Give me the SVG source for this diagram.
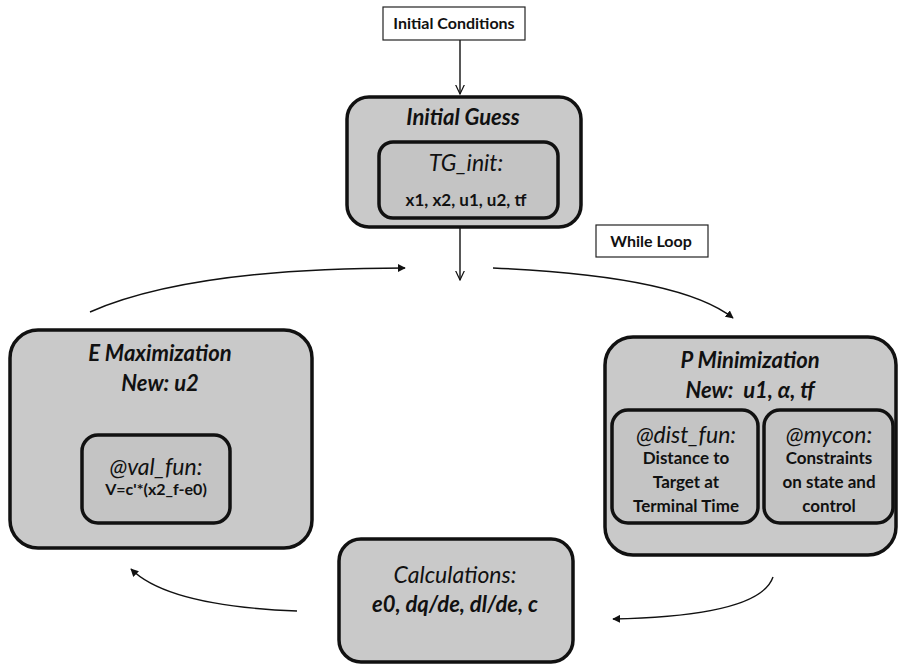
<svg xmlns="http://www.w3.org/2000/svg" width="899" height="670" viewBox="0 0 899 670">
<style>
.box{fill:#c9c9c9;stroke:#111;stroke-width:3.5}
.inner{fill:#c4c4c4;stroke:#111;stroke-width:3.5}
.plain{fill:#fff;stroke:#222;stroke-width:1.2}
.con{fill:none;stroke:#111;stroke-width:1.4}
text{font-family:Lato,"Open Sans","Liberation Sans",sans-serif;fill:#111;text-anchor:middle}
.h{font-size:22px;font-weight:bold;font-style:italic}
.i{font-size:23px;font-style:italic}
.b{font-size:16px;font-weight:bold}
.s{font-size:17px;font-weight:bold}
</style>
<defs>
<marker id="tri" viewBox="0 0 10 10" refX="9" refY="5" markerWidth="8" markerHeight="8" orient="auto" markerUnits="userSpaceOnUse">
<path d="M0,0 L10,5 L0,10 z" fill="#111"/>
</marker>
<marker id="vee" viewBox="0 0 10 10" refX="9.5" refY="5" markerWidth="10" markerHeight="10" orient="auto" markerUnits="userSpaceOnUse">
<path d="M0,0.5 L9.5,5 L0,9.5" fill="none" stroke="#111" stroke-width="1.2"/>
</marker>
</defs>
<rect width="899" height="670" fill="#fff"/>
<g id="connectors">
<path class="con" d="M460 40 L460 94" marker-end="url(#vee)"/>
<path class="con" d="M460 227 L460 280" marker-end="url(#vee)"/>
<path class="con" d="M90 312 Q190 268 405 268" marker-end="url(#tri)"/>
<path class="con" d="M493 268 Q680 276 733 318" marker-end="url(#tri)"/>
<path class="con" d="M773 577 Q760 616 613 619" marker-end="url(#tri)"/>
<path class="con" d="M297 611 Q168 606 131 569" marker-end="url(#tri)"/>
</g>
<g id="initial-conditions">
<rect class="plain" x="383" y="7" width="142" height="33"/>
<text class="b" x="454" y="29">Initial Conditions</text>
</g>
<g id="while-loop">
<rect class="plain" x="596" y="225" width="112" height="32"/>
<text class="b" x="651" y="247">While Loop</text>
</g>
<g id="initial-guess">
<rect class="box" x="347" y="97" width="234" height="130" rx="22"/>
<text class="h" x="463" y="125">Initial Guess</text>
<rect class="inner" x="379" y="142" width="179" height="76" rx="14"/>
<text class="i" x="466" y="171">TG_init:</text>
<text class="s" x="466" y="206">x1, x2, u1, u2, tf</text>
</g>
<g id="e-max">
<rect class="box" x="10" y="330" width="302" height="218" rx="28"/>
<text class="h" x="160" y="361">E Maximization</text>
<text class="h" x="160" y="391">New: u2</text>
<rect class="inner" x="82" y="435" width="148" height="88" rx="16"/>
<text class="i" x="156" y="475">@val_fun:</text>
<text class="s" x="156" y="495" style="font-size:16px">V=c'*(x2_f-e0)</text>
</g>
<g id="p-min">
<rect class="box" x="605" y="337" width="291" height="218" rx="28"/>
<text class="h" x="750" y="368">P Minimization</text>
<text class="h" x="750" y="398">New:&#160; u1, α, tf</text>
<rect class="inner" x="612" y="410" width="146" height="113" rx="16"/>
<text class="i" x="686" y="443">@dist_fun:</text>
<text class="s" x="686" y="464">Distance to</text>
<text class="s" x="686" y="488">Target at</text>
<text class="s" x="686" y="512">Terminal Time</text>
<rect class="inner" x="764" y="410" width="129" height="113" rx="16"/>
<text class="i" x="829" y="443">@mycon:</text>
<text class="s" x="829" y="464">Constraints</text>
<text class="s" x="829" y="488">on state and</text>
<text class="s" x="829" y="512">control</text>
</g>
<g id="calculations">
<rect class="box" x="339" y="539" width="234" height="123" rx="22"/>
<text class="i" x="455" y="583">Calculations:</text>
<text class="h" x="455" y="612">e0, dq/de, dl/de, c</text>
</g>
</svg>
